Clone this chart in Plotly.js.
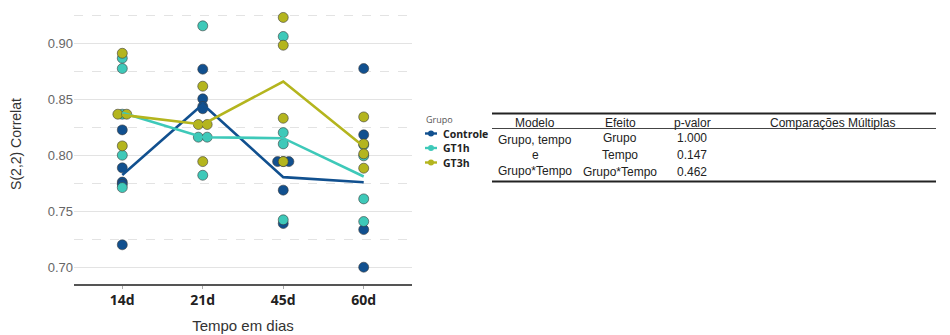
<!DOCTYPE html>
<html>
<head>
<meta charset="utf-8">
<script src="https://cdn.plot.ly/plotly-3.0.1.min.js"></script>
<style>html,body{margin:0;padding:0;background:#fff;}#chart{width:950px;height:335px;}</style>
</head>
<body>
<div id="chart"></div>
<script>
// ---- data ----
const categories = ["14d", "21d", "45d", "60d"];
const groups = ["Controle", "GT1h", "GT3h"];

const controlePoints = [
  [0.8226, 0.7887, 0.7760, 0.7740, 0.7200],
  [0.8768, 0.8503, 0.8435, 0.8415],
  [0.7943, 0.7943, 0.7943, 0.7688, 0.7390],
  [0.8774, 0.8182, 0.7336, 0.7000]
];
const gt1hPoints = [
  [0.8866, 0.8774, 0.8366, 0.8000, 0.7711],
  [0.9155, 0.8161, 0.8161, 0.7821],
  [0.9060, 0.8202, 0.8101, 0.7423],
  [0.8092, 0.7994, 0.7610, 0.7408]
];
const gt3hPoints = [
  [0.8910, 0.8366, 0.8366, 0.8083],
  [0.8616, 0.8274, 0.8274, 0.7943],
  [0.9230, 0.8982, 0.8330, 0.7943],
  [0.8342, 0.8101, 0.8012, 0.7884]
];

const controleMeans = [0.7824, 0.8455, 0.7804, 0.7759];
const gt1hMeans = [0.8380, 0.8160, 0.8152, 0.7810];
const gt3hMeans = [0.8360, 0.8274, 0.8658, 0.8077];

const legendTitle = "Grupo";
const tableHeaders = ["Modelo", "Efeito", "p-valor", "Comparações Múltiplas"];
const tableModelo = ["Grupo, tempo", "e", "Grupo*Tempo"];
const tableEfeito = ["Grupo", "Tempo", "Grupo*Tempo"];
const tablePvalor = ["1.000", "0.147", "0.462"];

// ---- styles ----
const colors = ["#11508f", "#3ec9b9", "#b4b51e"];
const allPoints = [controlePoints, gt1hPoints, gt3hPoints];
const allMeans = [controleMeans, gt1hMeans, gt3hMeans];

function dodge(vals, ci) {
  const xs = [];
  const counts = {};
  vals.forEach(v => { counts[v] = (counts[v] || 0) + 1; });
  const seen = {};
  vals.forEach(v => {
    const n = counts[v];
    const k = seen[v] || 0;
    seen[v] = k + 1;
    if (n === 1) { xs.push(ci); return; }
    const spread = 0.11 + 0.03 * (n - 2);
    xs.push(ci + (k / (n - 1) - 0.5) * spread);
  });
  return xs;
}

const traces = [];
groups.forEach((g, gi) => {
  const px = [], py = [];
  allPoints[gi].forEach((vals, ci) => {
    const xs = dodge(vals, ci);
    vals.forEach((v, j) => { px.push(xs[j]); py.push(v); });
  });
  traces.push({
    x: px, y: py, type: "scatter", mode: "markers", name: g, showlegend: false,
    marker: { color: colors[gi], size: 10, line: { color: "rgba(60,60,60,0.75)", width: 0.8 } },
    hoverinfo: "y"
  });
});
groups.forEach((g, gi) => {
  traces.push({
    x: categories.map((c, i) => i), y: allMeans[gi], type: "scatter", mode: "lines",
    name: g, showlegend: false,
    line: { color: colors[gi], width: 2.6 },
    hoverinfo: "y"
  });
});

// pixel helpers for paper coordinates (plot area: x 74..412, y 4..284)
const L = 74, R = 412, T = 4, B = 284;
const pxX = p => (p - L) / (R - L);
const pxY = p => (B - p) / (B - T);

const annotations = [];
const shapes = [];
const tFont = { family: "Liberation Sans, Arial, sans-serif", size: 12, color: "#222" };
function txt(x, y, t, font, anchor) {
  annotations.push({ xref: "paper", yref: "paper", x: pxX(x), y: pxY(y), text: t,
    showarrow: false, xanchor: anchor || "center", yanchor: "middle", font: font });
}

// custom compact legend
txt(424, 119, legendTitle, { family: "Open Sans, sans-serif", size: 9, color: "#555" }, "left");
const legY = [133.5, 148, 162.5];
groups.forEach((g, gi) => {
  shapes.push({ type: "line", xref: "paper", yref: "paper", x0: pxX(425), x1: pxX(437),
    y0: pxY(legY[gi]), y1: pxY(legY[gi]), line: { color: colors[gi], width: 2.4 } });
  shapes.push({ type: "circle", xref: "paper", yref: "paper", x0: pxX(428), x1: pxX(434),
    y0: pxY(legY[gi] + 3), y1: pxY(legY[gi] - 3), fillcolor: colors[gi], line: { color: colors[gi], width: 0 } });
  txt(441, legY[gi], g, { family: "Open Sans, sans-serif", size: 10.5, color: "#222", weight: "bold" }, "left");
});

// table
const colX = [535, 620, 692, 833];
tableHeaders.forEach((h, i) => txt(colX[i], 122.5, h, tFont));
const modeloY = [140, 155, 170.5];
tableModelo.forEach((t, i) => txt(colX[0], modeloY[i], t, tFont));
const rowY = [137.5, 154.5, 171.5];
tableEfeito.forEach((t, i) => txt(colX[1], rowY[i], t, tFont));
tablePvalor.forEach((t, i) => txt(colX[2], rowY[i], t, tFont));

shapes.push(
  { type: "line", xref: "paper", yref: "paper", x0: pxX(492), x1: pxX(936), y0: pxY(113.5), y1: pxY(113.5), line: { color: "#222", width: 2 } },
  { type: "line", xref: "paper", yref: "paper", x0: pxX(492), x1: pxX(936), y0: pxY(128.5), y1: pxY(128.5), line: { color: "#444", width: 1 } },
  { type: "line", xref: "paper", yref: "paper", x0: pxX(492), x1: pxX(936), y0: pxY(181.5), y1: pxY(181.5), line: { color: "#222", width: 2 } }
);

const layout = {
  width: 950, height: 335,
  margin: { l: L, r: 950 - R, t: T, b: 335 - B },
  paper_bgcolor: "#fff", plot_bgcolor: "#fff",
  showlegend: false,
  xaxis: {
    range: [-0.6, 3.6], tickvals: [0, 1, 2, 3], ticktext: categories,
    showgrid: false, zeroline: false,
    showline: true, linecolor: "#555", linewidth: 1.5,
    ticks: "outside", ticklen: 3, tickcolor: "#aaa",
    tickfont: { family: "Open Sans, sans-serif", size: 14, color: "#222", weight: "bold" },
    title: { text: "Tempo em dias", font: { family: "Liberation Sans, Arial, sans-serif", size: 15, color: "#333" }, standoff: 12 },
    fixedrange: true
  },
  yaxis: {
    range: [0.685, 0.935], tick0: 0.7, dtick: 0.05, tickformat: ".2f",
    showgrid: true, gridcolor: "#e3e3e3", gridwidth: 1,
    minor: { dtick: 0.025, tick0: 0.7, showgrid: true, gridcolor: "#e3e3e3", griddash: "dash", gridwidth: 1 },
    zeroline: false, showline: false, ticks: "",
    tickfont: { family: "Liberation Sans, Arial, sans-serif", size: 13, color: "#666" },
    title: { text: "S(2,2) Correlat", font: { family: "Liberation Sans, Arial, sans-serif", size: 14, color: "#333" }, standoff: 22 },
    fixedrange: true
  },
  annotations: annotations,
  shapes: shapes
};

Plotly.newPlot("chart", traces, layout, { displayModeBar: false, staticPlot: true });
</script>
</body>
</html>
